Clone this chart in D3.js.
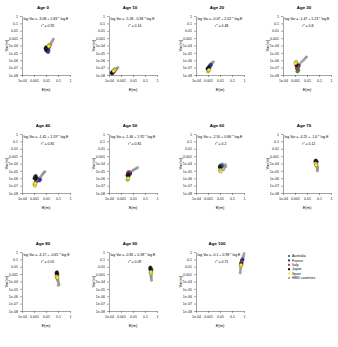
<!DOCTYPE html>
<html>
<head>
<meta charset="utf-8">
<script src="https://cdn.jsdelivr.net/npm/d3@7"></script>
<style>
  body { margin: 0; background: #fff; }
  svg { font-family: "Liberation Sans", Arial, sans-serif; }
  .tick text { font-size: 3.6px; fill: #222; }
  .tick line, .domain { stroke: #333; stroke-width: 0.45; }
</style>
</head>
<body>
<div id="chart"></div>
<script>
// Env params
const W = 338, H = 347;
const plotW = 48, plotH = 59;
const colLeft = [22, 109, 196, 283];
const rowTop = [16, 134, 252];

// panel titles and fitted lines text
const ages = [0, 10, 20, 30, 40, 50, 60, 70, 80, 90, 100];
const eqText = [
  "log Var = -3.08 + 1.83 * log E",
  "log Var = -5.28 - 0.38 * log E",
  "log Var = -0.07 + 2.02 * log E",
  "log Var = -1.47 + 1.23 * log E",
  "log Var = -1.41 + 1.59 * log E",
  "log Var = -1.46 + 1.92 * log E",
  "log Var = -2.50 + 0.86 * log E",
  "log Var = -4.25 + -1.6 * log E",
  "log Var = -4.17 + -0.65 * log E",
  "log Var = -0.85 + 0.38 * log E",
  "log Var = -0.1 + 0.98 * log E"
];
const r2Text = ["0.92", "0.14", "0.48", "0.8", "0.81", "0.81", "0.2", "0.12", "0.01", "0.09", "0.71"];

// legend
const countries = ["Australia", "France", "Italy", "Japan", "Spain", "HMD countries"];
const colors = ["#2e9e3a", "#1f2fd0", "#e0302a", "#111111", "#f6ee2a", "#a8a8a8"];

// axis ticks
const xTicks = [1e-4, 1e-3, 1e-2, 1e-1, 1];
const xTickLabels = ["1e-04", "0.001", "0.01", "0.1", "1"];
const yTicks = [1, 1e-1, 1e-2, 1e-3, 1e-4, 1e-5, 1e-6, 1e-7, 1e-8];
const yTickLabels = ["1", "0.1", "0.01", "0.001", "1e-04", "1e-05", "1e-06", "1e-07", "1e-08"];

// points: [age, E(m), Var(m)]
const hmdPts = [
  [0,0.022,1.5e-4],[0,0.028,2.5e-4],[0,0.034,4e-4],[0,0.04,7e-4],[0,0.025,1.2e-4],[0,0.014,3.5e-5],
  [10,3.5e-4,6e-8],[10,4.5e-4,8e-8],[10,5.5e-4,1e-7],[10,3e-4,7e-8],[10,4e-4,5e-8],
  [20,0.0018,3e-7],[20,0.0021,4e-7],[20,0.0025,5.5e-7],[20,0.0028,6e-7],[20,0.0019,2.5e-7],
  [30,0.0025,3e-7],[30,0.0035,6e-7],[30,0.005,1e-6],[30,0.007,1.8e-6],[30,0.009,2.8e-6],[30,0.0022,1.5e-7],
  [40,0.0035,1.5e-6],[40,0.0045,2.5e-6],[40,0.0055,4e-6],[40,0.0068,6e-6],[40,0.008,8e-6],[40,0.0025,1e-6],
  [50,0.007,8e-6],[50,0.01,1.2e-5],[50,0.014,1.7e-5],[50,0.019,2.2e-5],[50,0.024,2.8e-5],[50,0.006,4e-6],
  [60,0.018,6e-5],[60,0.022,5e-5],[60,0.028,7e-5],[60,0.025,3e-5],[60,0.03,4e-5],[60,0.02,1.5e-5],[60,0.016,9e-5],
  [70,0.065,4e-5],[70,0.07,2.5e-5],[70,0.075,1.5e-5],[70,0.072,1e-5],[70,0.068,5e-5],[70,0.078,3e-5],
  [80,0.09,2e-4],[80,0.1,1.2e-4],[80,0.11,7e-5],[80,0.12,4e-5],[80,0.095,1.5e-4],[80,0.105,3e-5],
  [90,0.32,6e-4],[90,0.34,4e-4],[90,0.33,2.5e-4],[90,0.35,1.5e-4],[90,0.31,9e-4],
  [100,0.5,3e-3],[100,0.48,1.5e-3],[100,0.8,0.15],[100,0.9,0.3],[100,1.0,0.6],[100,0.85,0.2],[100,0.53,6e-3]
];
const ausPts = [
  [0,0.011,2.5e-5],[0,0.014,3e-5],[0,0.012,1.8e-5],
  [10,2.2e-4,3e-8],[10,2.8e-4,4e-8],
  [20,0.0014,1.5e-7],[20,0.0016,2e-7],
  [30,0.0017,4e-8],[30,0.0019,5e-8],[30,0.0016,3e-8],
  [40,0.0014,3e-7],[40,0.0016,4e-7],
  [50,0.0045,2.5e-6],[50,0.005,3e-6],
  [60,0.011,5e-5],[60,0.012,6e-5],
  [70,0.06,1.5e-4],
  [80,0.085,8e-4],
  [90,0.32,3e-3],
  [100,0.6,0.03]
];
const fraPts = [
  [0,0.013,1.6e-5],[0,0.016,2.2e-5],[0,0.015,1.3e-5],
  [10,1.8e-4,1.5e-8],[10,2e-4,2e-8],
  [20,0.0015,1.8e-7],[20,0.0017,2.5e-7],[20,0.0013,1.3e-7],
  [30,0.0018,1.5e-7],[30,0.002,2e-7],
  [40,0.0028,5e-7],[40,0.0032,7e-7],[40,0.0025,6e-7],
  [50,0.0055,4e-6],[50,0.006,5e-6],
  [60,0.013,4e-5],[60,0.014,4.5e-5],
  [70,0.065,1.8e-4],
  [80,0.09,1e-3],
  [90,0.35,4e-3],
  [100,0.7,0.08],[100,0.75,0.1],[100,0.65,0.06]
];
const itaPts = [
  [0,0.016,5e-5],[0,0.018,6e-5],
  [10,2.5e-4,2.5e-8],
  [20,0.0013,1e-7],
  [30,0.0015,1e-7],[30,0.0017,1.3e-7],[30,0.0014,8e-8],
  [40,0.0018,6e-7],
  [50,0.004,6e-6],[50,0.0045,7e-6],[50,0.0038,5e-6],
  [60,0.012,3.5e-5],
  [70,0.058,1.2e-4],
  [80,0.08,7e-4],
  [90,0.3,3.5e-3],
  [100,0.62,0.04]
];
const jpnPts = [
  [0,0.009,4e-5],[0,0.010,6e-5],[0,0.011,3e-5],[0,0.012,5e-5],[0,0.010,2.5e-5],
  [10,2e-4,2.5e-8],[10,2.3e-4,3e-8],[10,1.7e-4,2e-8],
  [20,0.001,8e-8],[20,0.0011,1e-7],[20,0.0012,1.2e-7],[20,0.0009,7e-8],
  [30,0.0013,2e-7],[30,0.0014,3e-7],
  [40,0.0012,1.5e-6],[40,0.0014,2e-6],[40,0.0011,1e-6],[40,0.0013,8e-7],[40,0.0016,1.2e-6],
  [50,0.0038,3e-6],[50,0.0042,3.5e-6],[50,0.0035,2.5e-6],[50,0.004,2e-6],
  [60,0.01,4e-5],[60,0.011,3e-5],[60,0.0095,3.5e-5],[60,0.0105,2.5e-5],
  [70,0.052,2.2e-4],[70,0.055,2.5e-4],[70,0.05,1.8e-4],
  [80,0.075,1.5e-3],[80,0.082,1.8e-3],[80,0.078,1.2e-3],
  [90,0.28,8e-3],[90,0.3,6e-3],[90,0.27,5e-3],
  [100,0.58,0.025],[100,0.6,0.02]
];
const espPts = [
  [0,0.018,1.2e-4],[0,0.02,9e-5],[0,0.017,8e-5],
  [10,2.6e-4,4e-8],[10,3e-4,5e-8],[10,2.4e-4,3.5e-8],
  [20,0.001,3e-8],[20,0.0011,4e-8],[20,0.0012,5e-8],
  [30,0.0012,5e-7],[30,0.0013,6e-7],[30,0.0011,4e-7],
  [40,0.0011,1.5e-7],[40,0.0012,1e-7],[40,0.0013,2e-7],
  [50,0.0035,6e-7],[50,0.0038,8e-7],[50,0.004,1e-6],
  [60,0.0105,1e-5],[60,0.011,1.3e-5],[60,0.0115,8e-6],
  [70,0.055,8e-5],[70,0.06,7e-5],[70,0.052,1e-4],[70,0.058,6e-5],
  [80,0.08,4e-4],[80,0.085,3e-4],[80,0.078,5e-4],[80,0.088,3.5e-4],
  [90,0.3,1.5e-3],[90,0.33,1.2e-3],[90,0.31,2e-3],
  [100,0.55,0.015],[100,0.52,0.012],[100,0.57,0.018]
];
// drawing order: HMD at the back
const seriesPts = [hmdPts, ausPts, fraPts, itaPts, jpnPts, espPts];
const seriesCol = [5, 0, 1, 2, 3, 4];

// draw svg canvas
var svg = d3.select('#chart').append('svg')
  .attr('width', W)
  .attr('height', H)
  .style('background', '#fff');

var x = d3.scaleLog().domain([1e-4, 1]).range([0, plotW]);
var y = d3.scaleLog().domain([1e-8, 1]).range([plotH, 0]);

ages.forEach(function(age, i) {
  var col = i % 4, row = Math.floor(i / 4);
  var g = svg.append('g')
    .attr('transform', `translate(${colLeft[col]}, ${rowTop[row]})`);

  // title
  g.append('text')
    .attr('x', plotW / 2 - 3)
    .attr('y', -7)
    .attr('text-anchor', 'middle')
    .style('font-size', '4.4px')
    .style('font-weight', 'bold')
    .text('Age ' + age);

  // axes
  g.append('g')
    .attr('transform', `translate(0, ${plotH})`)
    .call(d3.axisBottom(x).tickValues(xTicks).tickSize(2).tickSizeOuter(0).tickPadding(2.5)
      .tickFormat((d, k) => xTickLabels[k]));
  g.append('g')
    .call(d3.axisLeft(y).tickValues(yTicks).tickSize(2).tickSizeOuter(0).tickPadding(2)
      .tickFormat((d, k) => yTickLabels[k]));

  // axis titles
  g.append('text')
    .attr('x', plotW / 2)
    .attr('y', plotH + 16)
    .attr('text-anchor', 'middle')
    .style('font-size', '4px')
    .text('E(m)');
  g.append('text')
    .attr('transform', `translate(-14, ${plotH / 2}) rotate(-90)`)
    .attr('text-anchor', 'middle')
    .style('font-size', '4px')
    .text('Var(m)');

  // fit text
  g.append('text')
    .attr('x', 1.5)
    .attr('y', 4)
    .style('font-size', '3.5px')
    .text(eqText[i]);
  g.append('text')
    .attr('x', 19)
    .attr('y', 10.5)
    .style('font-size', '3.5px')
    .html('r<tspan dy="-1.2" style="font-size:2.4px">2</tspan><tspan dy="1.2"> = ' + r2Text[i] + '</tspan>');

  // points (HMD smaller, at the back)
  seriesPts.forEach(function(pts, s) {
    g.selectAll(null)
      .data(pts.filter(p => p[0] === age))
      .enter().append('circle')
      .attr('cx', p => x(p[1]))
      .attr('cy', p => y(p[2]))
      .attr('r', s === 0 ? 1.2 : 1.7)
      .attr('fill', colors[seriesCol[s]])
      .attr('stroke', s === 0 ? '#666' : '#444')
      .attr('stroke-width', 0.3);
  });
});

// legend in the empty slot
var legend = svg.append('g')
  .attr('transform', 'translate(289, 256)');
countries.forEach(function(c, k) {
  legend.append('rect')
    .attr('x', -1)
    .attr('y', k * 4.4 - 1)
    .attr('width', 2)
    .attr('height', 2)
    .attr('fill', colors[k]);
  legend.append('text')
    .attr('x', 3)
    .attr('y', k * 4.4 + 1.2)
    .style('font-size', '3.5px')
    .text(c);
});
</script>
</body>
</html>
